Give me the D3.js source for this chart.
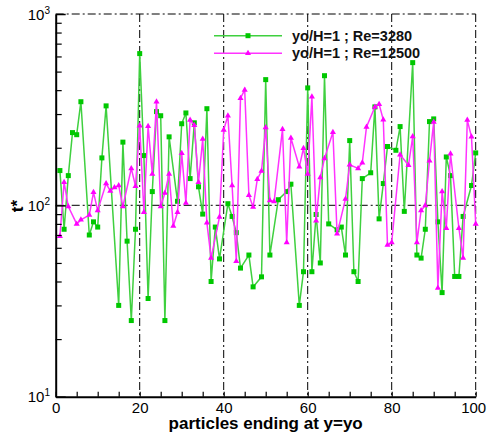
<!DOCTYPE html>
<html><head><meta charset="utf-8">
<script src="https://cdn.jsdelivr.net/npm/d3@7/dist/d3.min.js"></script>
<style>
body{margin:0;background:#fff;}
svg{display:block;font-family:"Liberation Sans",Arial,Helvetica,sans-serif;}
</style></head>
<body><svg id="c" width="487" height="434"></svg>
<script>
const seriesNames = ["yo/H=1 ; Re=3280", "yo/H=1 ; Re=12500"];
const greenX = [1,2,3,4,5,6,8,9,10,11,12,15,16,17,18,19,20,21,22,23,24,25,26,27,29,30,31,32,33,34,35,36,37,38,39,41,42,43,44,46,47,49,50,51,53,55,56,58,59,60,61,62,63,64,65,67,68,69,70,71,72,73,75,76,77,78,79,81,82,83,85,86,87,88,89,90,91,92,93,94,95,96,97,99,100];
const greenY = [152,75,143,240,234,348,70,82,77,177,331,30,214,65,25,75,621,182,32.6,118,309,294,25,228,105,267,304,138,270,125,90,320,40,77,52.5,102,87.5,72,47,55,37.5,42.3,454,55,107,118,129,30,45,411,45,89.6,50,476,80,74.5,77,55,218,45,40,138,148,327,85,130,203,194,258,93,557,55,53,75,274,283,82,35,179,143,42.5,42.5,87.5,127,188];
const magX = [1,2,3,5,6,8,9,10,12,13,14,15,16,18,19,20,21,22,23,24,25,26,27,28,29,30,31,32,33,34,35,36,37,39,40,41,42,43,44,45,46,47,48,49,50,51,52,54,55,56,58,59,60,61,62,63,64,66,67,69,70,72,73,74,76,77,78,79,80,82,84,85,86,87,88,89,90,91,92,93,94,96,97,98,99,100];
const magY = [69,132,98.6,80,84,89,117,94,130,119,124,127,98.6,156,126,261,92,259,146,348,98.6,116,146,78,92,187,103,279,262,132,222,81,53,87,248,294,127,51,363,401,113,98,137,151,255,106,104.7,250,64,225,159,199,146,369,83,140,176,241,71,108,163,156,167,257,327,338,280,62,64,184,162,229,64,94,99.8,171,273,37,118,76,186,76,53,279,228,80];
const xMajorTicks = [0,20,40,60,80,100];
const yMajorTicks = [10,100,1000];
const xLabel = "particles ending at y=yo";
const yLabel = "t*";

const L = 55.7, R = 475.7, T = 14, B = 396.7;
const svg = d3.select("#c");
const x = d3.scaleLinear().domain([0,100]).range([L,R]);
const y = d3.scaleLog().domain([10,1000]).range([B,T]);

// grid (dash-dot)
const dash = "8,3,2,3";
const g = svg.append("g");
[20,40,60,80,100].forEach(v=>{
  g.append("line").attr("x1",x(v)).attr("x2",x(v)).attr("y1",T).attr("y2",B)
   .attr("stroke","#000").attr("stroke-width",1).attr("stroke-dasharray",dash);
});
[100,1000].forEach(v=>{
  g.append("line").attr("x1",L).attr("x2",R).attr("y1",y(v)).attr("y2",y(v))
   .attr("stroke", v===100?"#333":"#000").attr("stroke-width", v===100?1.3:1).attr("stroke-dasharray",dash);
});

// series
const green = greenX.map((d,i)=>[d,greenY[i]]);
const mag = magX.map((d,i)=>[d,magY[i]]);
const line = d3.line().x(d=>x(d[0])).y(d=>y(d[1]));
const gc = "#00c800", gl = "#3fd03f", mc = "#ff00ff", ml = "#ff33ff";
svg.append("path").datum(green).attr("d",line).attr("fill","none").attr("stroke",gl).attr("stroke-width",1.5);
svg.append("g").selectAll("rect").data(green).join("rect")
  .attr("x",d=>x(d[0])-2.5).attr("y",d=>y(d[1])-2.5).attr("width",5).attr("height",5).attr("fill",gc);
svg.append("path").datum(mag).attr("d",line).attr("fill","none").attr("stroke",ml).attr("stroke-width",1.5);
const tri = d3.symbol().type(d3.symbolTriangle).size(16);
svg.append("g").selectAll("path").data(mag).join("path")
  .attr("d",tri).attr("transform",d=>`translate(${x(d[0])},${y(d[1])})`).attr("fill",mc);

// axes
const xAxis = d3.axisBottom(x).tickValues(d3.range(0,101,5))
  .tickFormat(d=> xMajorTicks.includes(d) ? d : "").tickSize(-5).tickSizeOuter(0).tickPadding(5.7);
const xg = svg.append("g").attr("transform",`translate(0,${B})`).call(xAxis);
xg.selectAll("text").attr("font-size",15).attr("fill","#000").attr("font-family","Liberation Sans, Arial, sans-serif");
xg.selectAll(".tick text").filter(d=>d===100).attr("dx",-2.5);
xg.select(".domain").attr("stroke-width",2);
xg.selectAll(".tick line").attr("stroke-width",1.2);

const minorVals = [];
[10,100].forEach(b=>{ for(let k=2;k<=9;k++) minorVals.push(b*k); });
const yMinor = d3.axisLeft(y).tickValues(minorVals).tickFormat("").tickSize(-6).tickSizeOuter(0);
const ym = svg.append("g").attr("transform",`translate(${L},0)`).call(yMinor);
ym.select(".domain").remove();
ym.selectAll(".tick line").attr("stroke-width",1.2);
const yMajor = d3.axisLeft(y).tickValues(yMajorTicks).tickFormat("").tickSize(-10).tickSizeOuter(0).tickPadding(5.7);
const yg = svg.append("g").attr("transform",`translate(${L},0)`).call(yMajor);
yg.select(".domain").attr("stroke-width",2);
yg.selectAll(".tick line").attr("stroke-width",1.5);
yg.selectAll(".tick text").each(function(d){
  const t = d3.select(this).attr("font-size",15).attr("fill","#000").attr("dy","0.35em").text(null);
  t.append("tspan").text("10");
  t.append("tspan").attr("font-size",10).attr("dy","-0.6em").text(String(Math.round(Math.log10(d))));
});

// axis titles
svg.append("text").attr("x",(L+R)/2).attr("y",428.5).attr("text-anchor","middle")
  .attr("font-size",17).attr("font-weight","bold").attr("fill","#000").text(xLabel);
svg.append("text").attr("transform","translate(23,206) rotate(-90)").attr("text-anchor","middle")
  .attr("font-size",17).attr("font-weight","bold").attr("fill","#000").text(yLabel);

// legend
const legY = [35.7, 53.3];
const legC = [[gl,gc,"sq"],[ml,mc,"tri"]];
seriesNames.forEach((n,i)=>{
  svg.append("line").attr("x1",214).attr("x2",282).attr("y1",legY[i]).attr("y2",legY[i])
    .attr("stroke",legC[i][0]).attr("stroke-width",1.5);
  if(legC[i][2]==="sq") svg.append("rect").attr("x",248-2.5).attr("y",legY[i]-2.5).attr("width",5).attr("height",5).attr("fill",legC[i][1]);
  else svg.append("path").attr("d",tri).attr("transform",`translate(248,${legY[i]})`).attr("fill",legC[i][1]);
  svg.append("text").attr("x",292).attr("y",legY[i]+4.8).attr("font-size",14.5).attr("font-weight","bold")
    .attr("fill","#111").text(n);
});
</script></body></html>
